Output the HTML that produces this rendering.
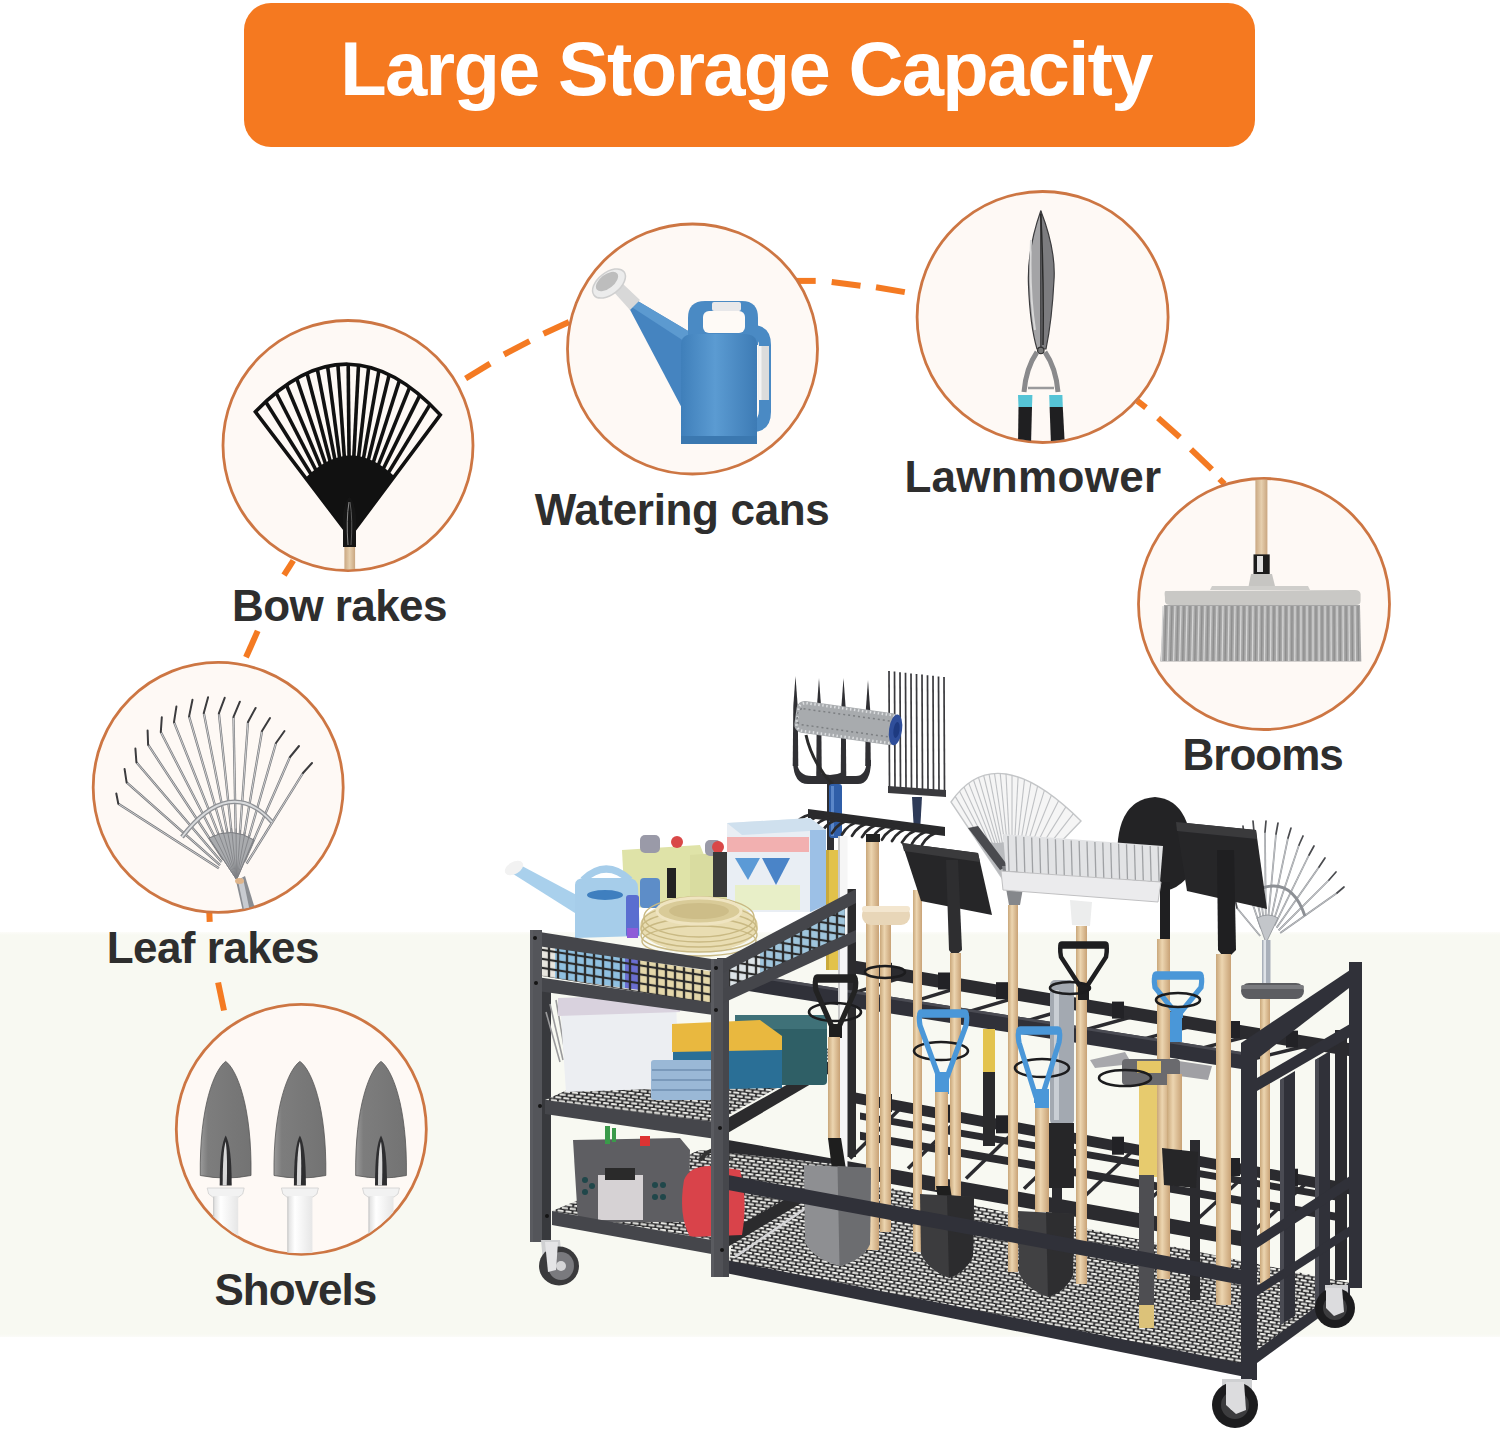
<!DOCTYPE html>
<html><head><meta charset="utf-8">
<style>
html,body{margin:0;padding:0;}
body{width:1500px;height:1433px;overflow:hidden;background:#fff;position:relative;font-family:"Liberation Sans",sans-serif;}
#band{position:absolute;left:0;top:932px;width:1500px;height:405px;background:linear-gradient(#fcfcf9 0px,#f8f9f2 3px,#f8f9f2 402px,#fbfbf8 405px);}
#banner{position:absolute;left:244px;top:3px;width:1011px;height:144px;border-radius:27px;background:#f57920;}
#title{position:absolute;left:-3.5px;top:0;width:1011px;text-align:center;color:#fff;font-weight:bold;font-size:76px;letter-spacing:-1.7px;line-height:132px;white-space:nowrap;}
.lbl{position:absolute;color:#2e2e2e;font-weight:bold;font-size:44px;line-height:44px;white-space:nowrap;}
svg{position:absolute;left:0;top:0;}
</style></head>
<body>
<div id="band"></div>
<div id="banner"><div id="title">Large Storage Capacity</div></div>

<svg id="main" width="1500" height="1433" viewBox="0 0 1500 1433">
<defs>
<pattern id="dmesh" width="8" height="6.6" patternUnits="userSpaceOnUse" patternTransform="rotate(9)">
<rect width="8" height="6.6" fill="#262628"/>
<rect x="0.7" y="0.5" width="6.4" height="2.2" rx="1.1" fill="#eeeeea"/>
<rect x="-3.3" y="3.8" width="6.4" height="2.2" rx="1.1" fill="#eeeeea"/>
<rect x="4.7" y="3.8" width="6.4" height="2.2" rx="1.1" fill="#eeeeea"/>
</pattern>
<pattern id="dmesh2" width="8" height="6.6" patternUnits="userSpaceOnUse" patternTransform="rotate(7)">
<rect width="8" height="6.6" fill="#262628"/>
<rect x="0.7" y="0.5" width="6.4" height="2.2" rx="1.1" fill="#e6e6e2"/>
<rect x="-3.3" y="3.8" width="6.4" height="2.2" rx="1.1" fill="#e6e6e2"/>
<rect x="4.7" y="3.8" width="6.4" height="2.2" rx="1.1" fill="#e6e6e2"/>
</pattern>
<pattern id="sqmesh" width="9" height="9" patternUnits="userSpaceOnUse" patternTransform="skewY(9)">
<rect width="9" height="9" fill="none" stroke="#2a2a2a" stroke-width="2.2"/>
</pattern>
<linearGradient id="wood" x1="0" x2="1" y1="0" y2="0">
<stop offset="0" stop-color="#c9a77a"/><stop offset="0.4" stop-color="#ecd5b0"/><stop offset="1" stop-color="#c8a276"/>
</linearGradient>
<linearGradient id="steel" x1="0" x2="1" y1="0" y2="0">
<stop offset="0" stop-color="#6e6e6e"/><stop offset="0.5" stop-color="#9a9a9a"/><stop offset="1" stop-color="#5a5a5a"/>
</linearGradient>
</defs>
<!-- dashes -->
<g stroke="#f47a22" stroke-width="6" fill="none">
<line x1="465.6" y1="378.5" x2="490.1" y2="363.6"/>
<line x1="504" y1="354.5" x2="529.6" y2="341.2"/>
<line x1="543.5" y1="333.7" x2="569" y2="322"/>
<line x1="796" y1="280.9" x2="815.7" y2="280.9"/>
<line x1="831.7" y1="282" x2="860.5" y2="285.7"/>
<line x1="876" y1="287.3" x2="904.8" y2="292.1"/>
<line x1="1137.3" y1="400.8" x2="1146" y2="407.7"/>
<line x1="1158.1" y1="418.1" x2="1179.8" y2="437.2"/>
<line x1="1191" y1="449.3" x2="1211.9" y2="469.3"/>
<line x1="1219.5" y1="479" x2="1224.5" y2="484"/>
<line x1="293.3" y1="560.5" x2="284" y2="575.2"/>
<line x1="257.7" y1="630.9" x2="246" y2="657.3"/>
<line x1="209.3" y1="911.7" x2="209.7" y2="921.8"/>
<line x1="218.1" y1="982.5" x2="224" y2="1010.5"/>
</g>
<!-- circles -->
<g stroke="#cd7643" stroke-width="2.8" fill="#fef9f5">
<circle cx="348" cy="445.5" r="125"/>
<circle cx="692.5" cy="349" r="125"/>
<circle cx="1042.6" cy="317" r="125.5"/>
<circle cx="1264" cy="604" r="125.5"/>
<circle cx="218.2" cy="787.4" r="125"/>
<circle cx="301.3" cy="1129.3" r="125"/>
</g>
<defs>
<clipPath id="cc0"><circle cx="348" cy="445.5" r="124"/></clipPath>
<clipPath id="cc1"><circle cx="692.5" cy="349" r="124"/></clipPath>
<clipPath id="cc2"><circle cx="1042.6" cy="317" r="124.5"/></clipPath>
<clipPath id="cc3"><circle cx="1264" cy="604" r="124.5"/></clipPath>
<clipPath id="cc4"><circle cx="218.2" cy="787.4" r="124"/></clipPath>
<clipPath id="cc5"><circle cx="301.3" cy="1129.3" r="124"/></clipPath>
<linearGradient id="blade" x1="0" x2="1" y1="0" y2="0"><stop offset="0" stop-color="#5a5a5c"/><stop offset="0.25" stop-color="#b9b9bb"/><stop offset="0.5" stop-color="#8d8d90"/><stop offset="0.55" stop-color="#3a3a3c"/><stop offset="0.6" stop-color="#9a9a9c"/><stop offset="1" stop-color="#4a4a4c"/></linearGradient>
<linearGradient id="canb" x1="0" x2="1" y1="0" y2="0"><stop offset="0" stop-color="#3f7fba"/><stop offset="0.45" stop-color="#5b9bd2"/><stop offset="1" stop-color="#3d7bb5"/></linearGradient>
<linearGradient id="bristle" x1="0" x2="0" y1="0" y2="1"><stop offset="0" stop-color="#8c8c8c"/><stop offset="1" stop-color="#b0b0b0"/></linearGradient>
<linearGradient id="trow" x1="0" x2="1" y1="0" y2="0"><stop offset="0" stop-color="#9a9a9a"/><stop offset="0.15" stop-color="#7d7d7d"/><stop offset="1" stop-color="#737373"/></linearGradient>
<linearGradient id="whand" x1="0" x2="1" y1="0" y2="0"><stop offset="0" stop-color="#dcdcdc"/><stop offset="0.3" stop-color="#ffffff"/><stop offset="1" stop-color="#e6e6e6"/></linearGradient>
<linearGradient id="wood2" x1="0" x2="1" y1="0" y2="0"><stop offset="0" stop-color="#caa882"/><stop offset="0.5" stop-color="#e6cfae"/><stop offset="1" stop-color="#c9a680"/></linearGradient>
</defs>
<g clip-path="url(#cc0)">
<path d="M349.8,536.0 L255.4,411.8 Q348.5,315.0 440.3,414.9 Z" fill="none" stroke="#111" stroke-width="3.6" stroke-linejoin="miter"/>
<line x1="349.8" y1="536.0" x2="265.7" y2="401.7" stroke="#111" stroke-width="3.6"/>
<line x1="349.8" y1="536.0" x2="276.1" y2="392.7" stroke="#111" stroke-width="3.6"/>
<line x1="349.8" y1="536.0" x2="286.4" y2="385.0" stroke="#111" stroke-width="3.6"/>
<line x1="349.8" y1="536.0" x2="296.7" y2="378.5" stroke="#111" stroke-width="3.6"/>
<line x1="349.8" y1="536.0" x2="307.0" y2="373.2" stroke="#111" stroke-width="3.6"/>
<line x1="349.8" y1="536.0" x2="317.3" y2="369.1" stroke="#111" stroke-width="3.6"/>
<line x1="349.8" y1="536.0" x2="327.6" y2="366.3" stroke="#111" stroke-width="3.6"/>
<line x1="349.8" y1="536.0" x2="337.9" y2="364.6" stroke="#111" stroke-width="3.6"/>
<line x1="349.8" y1="536.0" x2="348.2" y2="364.2" stroke="#111" stroke-width="3.6"/>
<line x1="349.8" y1="536.0" x2="358.5" y2="365.0" stroke="#111" stroke-width="3.6"/>
<line x1="349.8" y1="536.0" x2="368.7" y2="367.0" stroke="#111" stroke-width="3.6"/>
<line x1="349.8" y1="536.0" x2="379.0" y2="370.2" stroke="#111" stroke-width="3.6"/>
<line x1="349.8" y1="536.0" x2="389.2" y2="374.6" stroke="#111" stroke-width="3.6"/>
<line x1="349.8" y1="536.0" x2="399.5" y2="380.2" stroke="#111" stroke-width="3.6"/>
<line x1="349.8" y1="536.0" x2="409.7" y2="387.1" stroke="#111" stroke-width="3.6"/>
<line x1="349.8" y1="536.0" x2="419.9" y2="395.1" stroke="#111" stroke-width="3.6"/>
<line x1="349.8" y1="536.0" x2="430.1" y2="404.4" stroke="#111" stroke-width="3.6"/>
<path d="M349.8,536.0 L305.6,477.8 Q349.8,434 394.4,476.3 Z" fill="#111"/>
<rect x="344.4" y="545" width="10.7" height="30" fill="url(#wood2)"/>
<path d="M343,547 L343,515 Q345,500 349.5,497 Q354,500 356,515 L356,547 Z" fill="#151515"/>
<path d="M348,545 Q346,520 349,502" stroke="#8a8a8a" stroke-width="1" fill="none"/>
<path d="M351,545 Q353,520 350,502" stroke="#6a6a6a" stroke-width="0.8" fill="none"/>
</g>
<g clip-path="url(#cc1)">
<path d="M627,304 L636,300 L700,338 L700,395 L684,412 Z" fill="#4584c0"/>
<path d="M627,304 L636,300 L700,338 L690,345 Z" fill="#5c9ad0"/>
<path d="M612,290 L622,283 L640,300 L630,310 Z" fill="#d8d8d8"/>
<ellipse cx="609" cy="283.5" rx="19" ry="11" transform="rotate(-38 609 283.5)" fill="#ececec" stroke="#cfcfcf" stroke-width="1.5"/>
<ellipse cx="607" cy="281.5" rx="13" ry="7" transform="rotate(-38 607 281.5)" fill="#bdbdbd"/>
<path d="M688,345 L688,318 Q688,301 705,301 L742,301 Q758,301 758,318 L758,345 Z" fill="#4a8ac4"/>
<rect x="703" y="311" width="42" height="22" rx="6" fill="#fefaf6"/>
<rect x="712" y="302" width="29" height="9" rx="2" fill="#e8e8ea"/>
<path d="M752,325 Q771,325 771,345 L771,412 Q771,432 752,432 L752,420 Q759,420 759,410 L759,347 Q759,337 752,337 Z" fill="#4a8ac4"/>
<rect x="758.5" y="346" width="10.5" height="54" fill="#dcdcdc"/>
<rect x="758.5" y="346" width="3" height="54" fill="#f4f4f4"/>
<path d="M681,345 Q681,334 694,334 L744,334 Q757,334 757,345 L757,440 Q757,444 750,444 L688,444 Q681,444 681,440 Z" fill="url(#canb)"/>
<rect x="681" y="436" width="76" height="8" fill="#3b78b0"/>
</g>
<g clip-path="url(#cc2)">
<path d="M1040.8,210.7 Q1027,250 1028.5,285 Q1030,325 1037,349 L1041,349 Z" fill="#a4a4a6" stroke="#3c3c3e" stroke-width="1.2"/>
<path d="M1040.8,210.7 Q1056,250 1054,280 Q1052,320 1046,349 L1041,349 Z" fill="#7c7c7f" stroke="#3c3c3e" stroke-width="1.2"/>
<path d="M1040.8,214 Q1044,280 1043,345" stroke="#2a2a2a" stroke-width="1.5" fill="none"/>
<path d="M1031,240 Q1029,290 1035,330" stroke="#d8d8d8" stroke-width="2" fill="none"/>
<circle cx="1040.8" cy="350.4" r="3.2" fill="#777" stroke="#333" stroke-width="1.2"/>
<path d="M1037,352 Q1026,368 1024,392" stroke="#8a8a8c" stroke-width="5" fill="none"/>
<path d="M1045,352 Q1056,368 1058,392" stroke="#8a8a8c" stroke-width="5" fill="none"/>
<line x1="1028" y1="388" x2="1054" y2="388" stroke="#9a9a9c" stroke-width="2.5"/>
<path d="M1018,395 L1032.4,395 L1032,407 L1018.5,407 Z" fill="#56c4d6"/>
<path d="M1049.2,395 L1062.4,395 L1062.8,407 L1049.6,407 Z" fill="#56c4d6"/>
<path d="M1018.5,407 L1032,407 L1031,445 L1018,445 Z" fill="#1f1f21"/>
<path d="M1049.6,407 L1062.8,407 L1064.8,445 L1051,445 Z" fill="#1f1f21"/>
</g>
<g clip-path="url(#cc3)">
<rect x="1255.4" y="470" width="12" height="86" fill="url(#wood2)"/>
<rect x="1253.5" y="554.4" width="16.2" height="19.6" fill="#1c1c1c"/>
<rect x="1257" y="556" width="6" height="16" fill="#e0e0e0"/>
<path d="M1251,574 L1272,574 L1276,590 L1247.8,590 Z" fill="#c6c5c2"/>
<path d="M1166,591 Q1164,590 1164.9,597 L1165,602 Q1166,605 1170,605 L1356,605 Q1361,605 1360.6,600 L1360.6,594 Q1360,590 1355,590 Z" fill="#c9c8c5"/>
<path d="M1210,590 L1310,590 L1308,586 L1212,586 Z" fill="#cfcecb"/>
<path d="M1164,605 L1360,605 L1361.3,661.5 L1160.3,661.5 Z" fill="#a7a7a7"/>
<line x1="1163.0" y1="606" x2="1161.5" y2="661" stroke="#d6d6d6" stroke-width="1.3"/>
<line x1="1166.0" y1="606" x2="1164.5" y2="661" stroke="#8e8e8e" stroke-width="1.3"/>
<line x1="1169.0" y1="606" x2="1167.6" y2="661" stroke="#d6d6d6" stroke-width="1.3"/>
<line x1="1172.0" y1="606" x2="1170.6" y2="661" stroke="#8e8e8e" stroke-width="1.3"/>
<line x1="1175.0" y1="606" x2="1173.6" y2="661" stroke="#d6d6d6" stroke-width="1.3"/>
<line x1="1178.0" y1="606" x2="1176.7" y2="661" stroke="#8e8e8e" stroke-width="1.3"/>
<line x1="1181.0" y1="606" x2="1179.7" y2="661" stroke="#d6d6d6" stroke-width="1.3"/>
<line x1="1184.0" y1="606" x2="1182.7" y2="661" stroke="#8e8e8e" stroke-width="1.3"/>
<line x1="1187.0" y1="606" x2="1185.8" y2="661" stroke="#d6d6d6" stroke-width="1.3"/>
<line x1="1190.0" y1="606" x2="1188.8" y2="661" stroke="#8e8e8e" stroke-width="1.3"/>
<line x1="1193.0" y1="606" x2="1191.8" y2="661" stroke="#d6d6d6" stroke-width="1.3"/>
<line x1="1196.0" y1="606" x2="1194.8" y2="661" stroke="#8e8e8e" stroke-width="1.3"/>
<line x1="1199.0" y1="606" x2="1197.9" y2="661" stroke="#d6d6d6" stroke-width="1.3"/>
<line x1="1202.0" y1="606" x2="1200.9" y2="661" stroke="#8e8e8e" stroke-width="1.3"/>
<line x1="1205.0" y1="606" x2="1203.9" y2="661" stroke="#d6d6d6" stroke-width="1.3"/>
<line x1="1208.0" y1="606" x2="1207.0" y2="661" stroke="#8e8e8e" stroke-width="1.3"/>
<line x1="1211.0" y1="606" x2="1210.0" y2="661" stroke="#d6d6d6" stroke-width="1.3"/>
<line x1="1214.0" y1="606" x2="1213.0" y2="661" stroke="#8e8e8e" stroke-width="1.3"/>
<line x1="1217.0" y1="606" x2="1216.0" y2="661" stroke="#d6d6d6" stroke-width="1.3"/>
<line x1="1220.0" y1="606" x2="1219.1" y2="661" stroke="#8e8e8e" stroke-width="1.3"/>
<line x1="1223.0" y1="606" x2="1222.1" y2="661" stroke="#d6d6d6" stroke-width="1.3"/>
<line x1="1226.0" y1="606" x2="1225.1" y2="661" stroke="#8e8e8e" stroke-width="1.3"/>
<line x1="1229.0" y1="606" x2="1228.2" y2="661" stroke="#d6d6d6" stroke-width="1.3"/>
<line x1="1232.0" y1="606" x2="1231.2" y2="661" stroke="#8e8e8e" stroke-width="1.3"/>
<line x1="1235.0" y1="606" x2="1234.2" y2="661" stroke="#d6d6d6" stroke-width="1.3"/>
<line x1="1238.0" y1="606" x2="1237.3" y2="661" stroke="#8e8e8e" stroke-width="1.3"/>
<line x1="1241.0" y1="606" x2="1240.3" y2="661" stroke="#d6d6d6" stroke-width="1.3"/>
<line x1="1244.0" y1="606" x2="1243.3" y2="661" stroke="#8e8e8e" stroke-width="1.3"/>
<line x1="1247.0" y1="606" x2="1246.3" y2="661" stroke="#d6d6d6" stroke-width="1.3"/>
<line x1="1250.0" y1="606" x2="1249.4" y2="661" stroke="#8e8e8e" stroke-width="1.3"/>
<line x1="1253.0" y1="606" x2="1252.4" y2="661" stroke="#d6d6d6" stroke-width="1.3"/>
<line x1="1256.0" y1="606" x2="1255.4" y2="661" stroke="#8e8e8e" stroke-width="1.3"/>
<line x1="1259.0" y1="606" x2="1258.5" y2="661" stroke="#d6d6d6" stroke-width="1.3"/>
<line x1="1262.0" y1="606" x2="1261.5" y2="661" stroke="#8e8e8e" stroke-width="1.3"/>
<line x1="1265.0" y1="606" x2="1264.5" y2="661" stroke="#d6d6d6" stroke-width="1.3"/>
<line x1="1268.0" y1="606" x2="1267.6" y2="661" stroke="#8e8e8e" stroke-width="1.3"/>
<line x1="1271.0" y1="606" x2="1270.6" y2="661" stroke="#d6d6d6" stroke-width="1.3"/>
<line x1="1274.0" y1="606" x2="1273.6" y2="661" stroke="#8e8e8e" stroke-width="1.3"/>
<line x1="1277.0" y1="606" x2="1276.7" y2="661" stroke="#d6d6d6" stroke-width="1.3"/>
<line x1="1280.0" y1="606" x2="1279.7" y2="661" stroke="#8e8e8e" stroke-width="1.3"/>
<line x1="1283.0" y1="606" x2="1282.7" y2="661" stroke="#d6d6d6" stroke-width="1.3"/>
<line x1="1286.0" y1="606" x2="1285.7" y2="661" stroke="#8e8e8e" stroke-width="1.3"/>
<line x1="1289.0" y1="606" x2="1288.8" y2="661" stroke="#d6d6d6" stroke-width="1.3"/>
<line x1="1292.0" y1="606" x2="1291.8" y2="661" stroke="#8e8e8e" stroke-width="1.3"/>
<line x1="1295.0" y1="606" x2="1294.8" y2="661" stroke="#d6d6d6" stroke-width="1.3"/>
<line x1="1298.0" y1="606" x2="1297.9" y2="661" stroke="#8e8e8e" stroke-width="1.3"/>
<line x1="1301.0" y1="606" x2="1300.9" y2="661" stroke="#d6d6d6" stroke-width="1.3"/>
<line x1="1304.0" y1="606" x2="1303.9" y2="661" stroke="#8e8e8e" stroke-width="1.3"/>
<line x1="1307.0" y1="606" x2="1307.0" y2="661" stroke="#d6d6d6" stroke-width="1.3"/>
<line x1="1310.0" y1="606" x2="1310.0" y2="661" stroke="#8e8e8e" stroke-width="1.3"/>
<line x1="1313.0" y1="606" x2="1313.0" y2="661" stroke="#d6d6d6" stroke-width="1.3"/>
<line x1="1316.0" y1="606" x2="1316.0" y2="661" stroke="#8e8e8e" stroke-width="1.3"/>
<line x1="1319.0" y1="606" x2="1319.1" y2="661" stroke="#d6d6d6" stroke-width="1.3"/>
<line x1="1322.0" y1="606" x2="1322.1" y2="661" stroke="#8e8e8e" stroke-width="1.3"/>
<line x1="1325.0" y1="606" x2="1325.1" y2="661" stroke="#d6d6d6" stroke-width="1.3"/>
<line x1="1328.0" y1="606" x2="1328.2" y2="661" stroke="#8e8e8e" stroke-width="1.3"/>
<line x1="1331.0" y1="606" x2="1331.2" y2="661" stroke="#d6d6d6" stroke-width="1.3"/>
<line x1="1334.0" y1="606" x2="1334.2" y2="661" stroke="#8e8e8e" stroke-width="1.3"/>
<line x1="1337.0" y1="606" x2="1337.2" y2="661" stroke="#d6d6d6" stroke-width="1.3"/>
<line x1="1340.0" y1="606" x2="1340.3" y2="661" stroke="#8e8e8e" stroke-width="1.3"/>
<line x1="1343.0" y1="606" x2="1343.3" y2="661" stroke="#d6d6d6" stroke-width="1.3"/>
<line x1="1346.0" y1="606" x2="1346.3" y2="661" stroke="#8e8e8e" stroke-width="1.3"/>
<line x1="1349.0" y1="606" x2="1349.4" y2="661" stroke="#d6d6d6" stroke-width="1.3"/>
<line x1="1352.0" y1="606" x2="1352.4" y2="661" stroke="#8e8e8e" stroke-width="1.3"/>
<line x1="1355.0" y1="606" x2="1355.4" y2="661" stroke="#d6d6d6" stroke-width="1.3"/>
<line x1="1358.0" y1="606" x2="1358.5" y2="661" stroke="#8e8e8e" stroke-width="1.3"/>
</g>
<g clip-path="url(#cc4)">
<line x1="218.9" y1="868.3" x2="118.3" y2="803.8" stroke="#77797c" stroke-width="2.3"/>
<line x1="218.9" y1="868.3" x2="118.3" y2="803.8" stroke="#e4e5e7" stroke-width="0.8"/>
<line x1="118.3" y1="803.8" x2="116.3" y2="793.5" stroke="#3c3c3e" stroke-width="2" stroke-linecap="round"/>
<line x1="220.1" y1="865.1" x2="126.6" y2="782.3" stroke="#77797c" stroke-width="2.3"/>
<line x1="220.1" y1="865.1" x2="126.6" y2="782.3" stroke="#e4e5e7" stroke-width="0.8"/>
<line x1="126.6" y1="782.3" x2="124.6" y2="769.1" stroke="#3c3c3e" stroke-width="2" stroke-linecap="round"/>
<line x1="221.6" y1="862.1" x2="136.4" y2="762.3" stroke="#77797c" stroke-width="2.3"/>
<line x1="221.6" y1="862.1" x2="136.4" y2="762.3" stroke="#e4e5e7" stroke-width="0.8"/>
<line x1="136.4" y1="762.3" x2="135.4" y2="748.6" stroke="#3c3c3e" stroke-width="2" stroke-linecap="round"/>
<line x1="223.3" y1="859.5" x2="148.1" y2="744.7" stroke="#77797c" stroke-width="2.3"/>
<line x1="223.3" y1="859.5" x2="148.1" y2="744.7" stroke="#e4e5e7" stroke-width="0.8"/>
<line x1="148.1" y1="744.7" x2="147.6" y2="730.5" stroke="#3c3c3e" stroke-width="2" stroke-linecap="round"/>
<line x1="225.2" y1="857.5" x2="160.8" y2="732.0" stroke="#77797c" stroke-width="2.3"/>
<line x1="225.2" y1="857.5" x2="160.8" y2="732.0" stroke="#e4e5e7" stroke-width="0.8"/>
<line x1="160.8" y1="732.0" x2="161.8" y2="717.3" stroke="#3c3c3e" stroke-width="2" stroke-linecap="round"/>
<line x1="227.2" y1="856.1" x2="174.0" y2="722.2" stroke="#77797c" stroke-width="2.3"/>
<line x1="227.2" y1="856.1" x2="174.0" y2="722.2" stroke="#e4e5e7" stroke-width="0.8"/>
<line x1="174.0" y1="722.2" x2="176.4" y2="706.6" stroke="#3c3c3e" stroke-width="2" stroke-linecap="round"/>
<line x1="229.5" y1="855.2" x2="189.1" y2="716.4" stroke="#77797c" stroke-width="2.3"/>
<line x1="229.5" y1="855.2" x2="189.1" y2="716.4" stroke="#e4e5e7" stroke-width="0.8"/>
<line x1="189.1" y1="716.4" x2="192.5" y2="699.8" stroke="#3c3c3e" stroke-width="2" stroke-linecap="round"/>
<line x1="231.7" y1="854.7" x2="203.8" y2="713.0" stroke="#77797c" stroke-width="2.3"/>
<line x1="231.7" y1="854.7" x2="203.8" y2="713.0" stroke="#e4e5e7" stroke-width="0.8"/>
<line x1="203.8" y1="713.0" x2="208.1" y2="697.3" stroke="#3c3c3e" stroke-width="2" stroke-linecap="round"/>
<line x1="233.9" y1="854.8" x2="218.9" y2="713.4" stroke="#77797c" stroke-width="2.3"/>
<line x1="233.9" y1="854.8" x2="218.9" y2="713.4" stroke="#e4e5e7" stroke-width="0.8"/>
<line x1="218.9" y1="713.4" x2="224.7" y2="697.8" stroke="#3c3c3e" stroke-width="2" stroke-linecap="round"/>
<line x1="236.1" y1="855.3" x2="233.5" y2="716.9" stroke="#77797c" stroke-width="2.3"/>
<line x1="236.1" y1="855.3" x2="233.5" y2="716.9" stroke="#e4e5e7" stroke-width="0.8"/>
<line x1="233.5" y1="716.9" x2="239.9" y2="701.7" stroke="#3c3c3e" stroke-width="2" stroke-linecap="round"/>
<line x1="238.3" y1="856.0" x2="248.0" y2="722.0" stroke="#77797c" stroke-width="2.3"/>
<line x1="238.3" y1="856.0" x2="248.0" y2="722.0" stroke="#e4e5e7" stroke-width="0.8"/>
<line x1="248.0" y1="722.0" x2="255.6" y2="708.0" stroke="#3c3c3e" stroke-width="2" stroke-linecap="round"/>
<line x1="240.4" y1="857.4" x2="262.0" y2="731.0" stroke="#77797c" stroke-width="2.3"/>
<line x1="240.4" y1="857.4" x2="262.0" y2="731.0" stroke="#e4e5e7" stroke-width="0.8"/>
<line x1="262.0" y1="731.0" x2="270.0" y2="718.0" stroke="#3c3c3e" stroke-width="2" stroke-linecap="round"/>
<line x1="242.5" y1="859.2" x2="276.0" y2="743.0" stroke="#77797c" stroke-width="2.3"/>
<line x1="242.5" y1="859.2" x2="276.0" y2="743.0" stroke="#e4e5e7" stroke-width="0.8"/>
<line x1="276.0" y1="743.0" x2="284.5" y2="731.0" stroke="#3c3c3e" stroke-width="2" stroke-linecap="round"/>
<line x1="244.6" y1="861.3" x2="290.0" y2="757.0" stroke="#77797c" stroke-width="2.3"/>
<line x1="244.6" y1="861.3" x2="290.0" y2="757.0" stroke="#e4e5e7" stroke-width="0.8"/>
<line x1="290.0" y1="757.0" x2="299.0" y2="746.0" stroke="#3c3c3e" stroke-width="2" stroke-linecap="round"/>
<line x1="246.6" y1="863.7" x2="303.0" y2="773.0" stroke="#77797c" stroke-width="2.3"/>
<line x1="246.6" y1="863.7" x2="303.0" y2="773.0" stroke="#e4e5e7" stroke-width="0.8"/>
<line x1="303.0" y1="773.0" x2="312.0" y2="763.0" stroke="#3c3c3e" stroke-width="2" stroke-linecap="round"/>
<path d="M182,837 Q230,775 272,822" stroke="#8f9195" stroke-width="4.5" fill="none"/>
<path d="M182,837 Q230,775 272,822" stroke="#d9dbdd" stroke-width="1.8" fill="none"/>
<path d="M236.6,879.7 L209,838 Q232,826 254,840 Z" fill="#a9abae" stroke="#7a7c80" stroke-width="1"/>
<line x1="236.6" y1="879.7" x2="209.0" y2="838.0" stroke="#7d7f83" stroke-width="0.8"/>
<line x1="236.6" y1="879.7" x2="213.5" y2="834.9" stroke="#7d7f83" stroke-width="0.8"/>
<line x1="236.6" y1="879.7" x2="218.0" y2="832.1" stroke="#7d7f83" stroke-width="0.8"/>
<line x1="236.6" y1="879.7" x2="222.5" y2="829.9" stroke="#7d7f83" stroke-width="0.8"/>
<line x1="236.6" y1="879.7" x2="227.0" y2="828.5" stroke="#7d7f83" stroke-width="0.8"/>
<line x1="236.6" y1="879.7" x2="231.5" y2="828.0" stroke="#7d7f83" stroke-width="0.8"/>
<line x1="236.6" y1="879.7" x2="236.0" y2="828.5" stroke="#7d7f83" stroke-width="0.8"/>
<line x1="236.6" y1="879.7" x2="240.5" y2="829.9" stroke="#7d7f83" stroke-width="0.8"/>
<line x1="236.6" y1="879.7" x2="245.0" y2="832.1" stroke="#7d7f83" stroke-width="0.8"/>
<line x1="236.6" y1="879.7" x2="249.5" y2="834.9" stroke="#7d7f83" stroke-width="0.8"/>
<line x1="236.6" y1="879.7" x2="254.0" y2="838.0" stroke="#7d7f83" stroke-width="0.8"/>
<path d="M236,881 L245,876 L256,912 L244,916 Z" fill="#8a8d92"/>
<path d="M238,881 L243,878 L250,912 L245,914 Z" fill="#c8cbd0"/>
<ellipse cx="239.5" cy="881" rx="4.5" ry="3" fill="#e0b58a"/>
</g>
<g clip-path="url(#cc5)">
<path d="M200.3,1175.5 C199.3,1106.4 214.5,1069.4 225.7,1061.4 C236.8,1069.4 252.0,1106.4 251.0,1175.5 Q225.7,1180.5 200.3,1175.5 Z" fill="url(#trow)" stroke="#555" stroke-width="0.8"/>
<path d="M219.7,1185.5 Q219.7,1145.5 225.7,1135.5 Q231.7,1145.5 231.7,1185.5 Z" fill="#2e2e30"/>
<path d="M222.7,1185.5 Q222.7,1150.5 225.7,1141.5 Q227.7,1155.5 226.7,1185.5 Z" fill="#d8d8d8"/>
<path d="M207.2,1188 L244.2,1188 L242.7,1194 L238.7,1197 L212.7,1197 L208.7,1194 Z" fill="#f2f2f2" stroke="#cfcfcf" stroke-width="0.8"/>
<rect x="213.2" y="1196" width="25" height="70" fill="url(#whand)"/>
<line x1="213.7" y1="1197" x2="213.7" y2="1266" stroke="#c8c8c8" stroke-width="1"/>
<path d="M274.0,1175.5 C273.0,1106.4 288.5,1069.4 299.9,1061.4 C311.3,1069.4 326.8,1106.4 325.8,1175.5 Q299.9,1180.5 274.0,1175.5 Z" fill="url(#trow)" stroke="#555" stroke-width="0.8"/>
<path d="M293.9,1185.5 Q293.9,1145.5 299.9,1135.5 Q305.9,1145.5 305.9,1185.5 Z" fill="#2e2e30"/>
<path d="M296.9,1185.5 Q296.9,1150.5 299.9,1141.5 Q301.9,1155.5 300.9,1185.5 Z" fill="#d8d8d8"/>
<path d="M281.4,1188 L318.4,1188 L316.9,1194 L312.9,1197 L286.9,1197 L282.9,1194 Z" fill="#f2f2f2" stroke="#cfcfcf" stroke-width="0.8"/>
<rect x="287.4" y="1196" width="25" height="70" fill="url(#whand)"/>
<line x1="287.9" y1="1197" x2="287.9" y2="1266" stroke="#c8c8c8" stroke-width="1"/>
<path d="M355.7,1175.5 C354.7,1106.4 369.9,1069.4 381.0,1061.4 C392.2,1069.4 407.4,1106.4 406.4,1175.5 Q381.0,1180.5 355.7,1175.5 Z" fill="url(#trow)" stroke="#555" stroke-width="0.8"/>
<path d="M375.0,1185.5 Q375.0,1145.5 381.0,1135.5 Q387.0,1145.5 387.0,1185.5 Z" fill="#2e2e30"/>
<path d="M378.0,1185.5 Q378.0,1150.5 381.0,1141.5 Q383.0,1155.5 382.0,1185.5 Z" fill="#d8d8d8"/>
<path d="M362.5,1188 L399.5,1188 L398.0,1194 L394.0,1197 L368.0,1197 L364.0,1194 Z" fill="#f2f2f2" stroke="#cfcfcf" stroke-width="0.8"/>
<rect x="368.5" y="1196" width="25" height="70" fill="url(#whand)"/>
<line x1="369.0" y1="1197" x2="369.0" y2="1266" stroke="#c8c8c8" stroke-width="1"/>
</g>
<!-- CART -->
<g id="cart">
<!-- ===== RIGHT UNIT: back structure ===== -->
<polygon points="729,1262 1243,1365 1350,1283 745,1158" fill="url(#dmesh)"/>
<g fill="#2b2b2f">
<polygon points="851,960.0 1350,1043.3 1350,1056.3 851,973.0"/>
<polygon points="860,1112.5 1345,1195.0 1345,1202.0 860,1119.5"/>
<polygon points="860,1131.8 1345,1214.3 1345,1222.3 860,1139.8"/>
<polygon points="850,1091.5 1350,1183.5 1350,1194.5 850,1102.5"/>
<polygon points="728,1139.9 1243,1231.6 1243,1246.6 728,1154.9"/>
</g>
<g stroke="#2b2b2f" stroke-width="3.5">
<line x1="900" y1="978.2" x2="850" y2="994.1"/>
<line x1="958" y1="987.9" x2="908" y2="1003.2"/>
<line x1="1016" y1="997.6" x2="966" y2="1012.4"/>
<line x1="1074" y1="1007.2" x2="1024" y2="1021.6"/>
<line x1="1132" y1="1016.9" x2="1082" y2="1030.7"/>
<line x1="1190" y1="1026.6" x2="1140" y2="1039.9"/>
<line x1="1248" y1="1036.3" x2="1198" y2="1049.1"/>
<line x1="1306" y1="1046.0" x2="1256" y2="1058.2"/>
<line x1="900" y1="1108.7" x2="850" y2="1158.6"/>
<line x1="958" y1="1119.3" x2="908" y2="1168.6"/>
<line x1="1016" y1="1130.0" x2="966" y2="1178.6"/>
<line x1="1074" y1="1140.7" x2="1024" y2="1188.7"/>
<line x1="1132" y1="1151.4" x2="1082" y2="1198.7"/>
<line x1="1190" y1="1162.0" x2="1140" y2="1208.7"/>
<line x1="1248" y1="1172.7" x2="1198" y2="1218.8"/>
<line x1="1306" y1="1183.4" x2="1256" y2="1228.8"/>
</g>
<g fill="#222226">
<rect x="880" y="1094.0" width="12" height="18"/>
<rect x="938" y="1104.7" width="12" height="18"/>
<rect x="996" y="1115.3" width="12" height="18"/>
<rect x="1054" y="1126.0" width="12" height="18"/>
<rect x="1112" y="1136.7" width="12" height="18"/>
<rect x="1170" y="1147.4" width="12" height="18"/>
<rect x="1228" y="1158.0" width="12" height="18"/>
<rect x="1286" y="1168.7" width="12" height="18"/>
<rect x="880" y="962.8" width="12" height="17"/>
<rect x="938" y="972.5" width="12" height="17"/>
<rect x="996" y="982.2" width="12" height="17"/>
<rect x="1054" y="991.9" width="12" height="17"/>
<rect x="1112" y="1001.6" width="12" height="17"/>
<rect x="1170" y="1011.3" width="12" height="17"/>
<rect x="1228" y="1021.0" width="12" height="17"/>
<rect x="1286" y="1030.6" width="12" height="17"/>
</g>
<rect x="1052" y="1120" width="10" height="165" fill="#2b2b2f"/>
<rect x="1190" y="1140" width="10" height="160" fill="#2b2b2f"/>
<rect x="1335" y="1030" width="12" height="250" fill="#2b2b2f"/>

<!-- ===== LEFT UNIT: back / shelves ===== -->
<!-- back-left post -->
<rect x="541" y="985" width="10" height="255" fill="#38393d"/>
<!-- back-right post of left unit -->
<rect x="845" y="889" width="11" height="268" fill="#2b2b2d"/>
<!-- middle shelf mesh -->
<polygon points="545,1100 716,1122 845,1050 690,1035" fill="url(#dmesh2)"/>
<!-- bottom shelf mesh -->
<polygon points="552,1211 717,1241 845,1165 700,1150" fill="url(#dmesh2)"/>
<!-- middle shelf right side rail -->
<polygon points="726,1119 845,1052 845,1064 726,1134" fill="#2b2b2d"/>
<polygon points="726,1233 845,1165 845,1177 726,1248" fill="#2b2b2d"/>

<!-- gray rake behind left unit -->
<g stroke="#9a9a9c" stroke-width="1.6">
<line x1="556" y1="1000" x2="566" y2="1058"/><line x1="550" y1="1004" x2="563" y2="1060"/><line x1="561" y1="998" x2="569" y2="1055"/><line x1="546" y1="1012" x2="560" y2="1062"/>
</g>
<!-- middle shelf items -->
<!-- teal toolbox behind -->
<rect x="735" y="1015" width="92" height="70" rx="4" fill="#2f5f66"/>
<rect x="735" y="1015" width="92" height="14" fill="#3f7178"/>
<!-- white bin -->
<path d="M560,1002 L676,1000 L679,1088 L566,1092 Z" fill="#eceef2"/>
<path d="M558,998 L678,994 L680,1012 L558,1016 Z" fill="#d9d2de"/>
<!-- yellow/blue toolbox -->
<path d="M673,1028 L760,1024 L782,1040 L782,1088 L673,1090 Z" fill="#2a6f96"/>
<path d="M672,1024 L760,1020 L782,1036 L782,1050 L672,1052 Z" fill="#e9b83f"/>
<!-- blue cases stack -->
<rect x="651" y="1060" width="62" height="40" rx="3" fill="#9ab8d6"/>
<g stroke="#6f8fb0" stroke-width="1.5"><line x1="652" y1="1070" x2="712" y2="1070"/><line x1="652" y1="1080" x2="712" y2="1080"/><line x1="652" y1="1090" x2="712" y2="1090"/></g>

<!-- bottom shelf items -->
<path d="M573,1140 L680,1138 L690,1150 L688,1222 L578,1222 Z" fill="#5e5e62"/>
<rect x="598" y="1175" width="45" height="45" fill="#d6d2d4"/>
<rect x="605" y="1168" width="30" height="12" fill="#2a2a2a"/>
<g fill="#20474a"><circle cx="585" cy="1180" r="3"/><circle cx="585" cy="1192" r="3"/><circle cx="592" cy="1186" r="3"/><circle cx="655" cy="1185" r="3"/><circle cx="663" cy="1185" r="3"/><circle cx="655" cy="1197" r="3"/><circle cx="663" cy="1197" r="3"/></g>
<rect x="605" y="1126" width="5" height="18" fill="#3a9a4a"/><rect x="612" y="1128" width="4" height="14" fill="#3a9a4a"/><rect x="640" y="1136" width="10" height="10" fill="#d33"/>
<path d="M684,1180 Q690,1165 712,1166 L740,1170 Q748,1200 742,1235 L690,1237 Q678,1215 684,1180 Z" fill="#d9434a"/>
<path d="M700,1160 Q715,1140 730,1160" stroke="#333" stroke-width="4" fill="none"/>

<!-- top front rail of right unit (behind tools) -->
<polygon points="728,970.8 1243,1052.2 1243,1069.2 728,987.8" fill="#303139"/>
<polygon points="728,970.8 1243,1052.2 1243,1055 728,973.6" fill="#4a4b53"/>
<g stroke="#3a3a3e" stroke-width="1.7">
<line x1="889.0" y1="671.0" x2="889.5" y2="788.0"/>
<line x1="894.5" y1="671.6" x2="895.0" y2="788.3"/>
<line x1="900.0" y1="672.2" x2="900.5" y2="788.6"/>
<line x1="905.5" y1="672.8" x2="906.0" y2="788.9"/>
<line x1="911.0" y1="673.4" x2="911.5" y2="789.2"/>
<line x1="916.5" y1="674.0" x2="917.0" y2="789.5"/>
<line x1="922.0" y1="674.6" x2="922.5" y2="789.8"/>
<line x1="927.5" y1="675.2" x2="928.0" y2="790.1"/>
<line x1="933.0" y1="675.8" x2="933.5" y2="790.4"/>
<line x1="938.5" y1="676.4" x2="939.0" y2="790.7"/>
<line x1="944.0" y1="677.0" x2="944.5" y2="791.0"/>
</g>
<polygon points="888,786 946,790 946,797 888,793" fill="#3a3a3e"/>
<path d="M912,797 L922,797 L920,832 L914,832 Z" fill="#2e3b58"/>
<path d="M793,760 Q793,784 808,784 L858,784 Q871,784 871,760 L867,760 Q866,776 856,776 L812,776 Q797,776 797,760 Z" fill="#303034"/>
<path d="M795.5,676 L797.7,706 L798.3,766 L792.7,766 L793.3,706 Z" fill="#303034"/>
<path d="M819,678 L821.2,708 L821.8,781 L816.2,781 L816.8,708 Z" fill="#303034"/>
<path d="M843.5,678 L845.7,708 L846.3,781 L840.7,781 L841.3,708 Z" fill="#303034"/>
<path d="M868,680 L870.2,710 L870.8,766 L865.2,766 L865.8,710 Z" fill="#303034"/>
<path d="M817,772 Q830,778 843,772 L843,780 L817,780 Z" fill="#303034"/>
<rect x="827" y="780" width="7" height="70" fill="#2e2e32"/>
<path d="M806,735 Q812,762 832,784" stroke="#2a2a2a" stroke-width="3" fill="none"/>
<g transform="rotate(8 847 723)">
<rect x="795" y="707" width="104" height="32" rx="8" fill="#a8abae"/>
<rect x="797" y="709" width="100" height="28" rx="7" fill="none" stroke="#dcdee0" stroke-width="2.5" stroke-dasharray="1.5 2.5"/>
<rect x="797" y="715" width="98" height="16" rx="5" fill="none" stroke="#7c7f82" stroke-width="1.5" stroke-dasharray="2 3"/>
<ellipse cx="896" cy="723" rx="6.5" ry="15.5" fill="#2f4e9a"/>
<ellipse cx="897" cy="723" rx="3" ry="8" fill="#1e3a80"/>
</g>
<rect x="829" y="784" width="13" height="54" rx="3" fill="#2f5ea8"/>
<rect x="831" y="786" width="3" height="50" fill="#5a86c8"/>
<rect x="838" y="836" width="9.5" height="365" fill="#f6f6f6"/>
<rect x="838" y="836" width="2" height="365" fill="#c9c9c9"/>
<rect x="826" y="850" width="12" height="120" fill="#e2c24a"/>
<rect x="826" y="850" width="3" height="120" fill="#c9a93a"/>
<polygon points="808,809 945,827 945,836 808,818" fill="#2a2a2c"/>
<g stroke="#2a2a2c" stroke-width="2.8" stroke-linecap="round" fill="none">
<path d="M812,814.0 Q798,817.0 792,828.0"/>
<path d="M822,815.3 Q808,818.3 802,829.3"/>
<path d="M832,816.6 Q818,819.6 812,830.6"/>
<path d="M842,817.9 Q828,820.9 822,831.9"/>
<path d="M852,819.2 Q838,822.2 832,833.2"/>
<path d="M862,820.5 Q848,823.5 842,834.5"/>
<path d="M872,821.8 Q858,824.8 852,835.8"/>
<path d="M882,823.1 Q868,826.1 862,837.1"/>
<path d="M892,824.4 Q878,827.4 872,838.4"/>
<path d="M902,825.7 Q888,828.7 882,839.7"/>
<path d="M912,827.0 Q898,830.0 892,841.0"/>
<path d="M922,828.3 Q908,831.3 902,842.3"/>
<path d="M932,829.6 Q918,832.6 912,843.6"/>
<path d="M942,830.9 Q928,833.9 922,844.9"/>
</g>
<rect x="866" y="834" width="14" height="8" fill="#222"/>
<rect x="866" y="842" width="13" height="408" fill="url(#wood)"/>
<rect x="880" y="925" width="11" height="307" fill="url(#wood)"/>
<rect x="862" y="906" width="48" height="19" rx="9" fill="#e8d6b8"/>
<rect x="862" y="906" width="48" height="6" rx="3" fill="#f3e6cf"/>
<rect x="913" y="890" width="9" height="362" fill="url(#wood)"/>
<polygon points="902,843 978,853 992,915 921,901" fill="#262628"/>
<polygon points="902,843 978,853 980,862 904,851" fill="#3a3a3c"/>
<path d="M946,860 L958,860 L962,950 L954,957 L949,950 Z" fill="#2e2e30"/>
<rect x="950" y="953" width="11" height="309" fill="url(#wood)"/>
<path d="M1012,893 L951,802 Q996.0,736.5 1081,821 Z" fill="#f5f5f5" stroke="#c4c6c8" stroke-width="1.4"/>
<g stroke="#bfc1c4" stroke-width="1.1" fill="none">
<path d="M1001.8,875.6 L955.2,796.4"/>
<path d="M1002.6,874.7 L959.5,791.3"/>
<path d="M1003.4,873.9 L964.0,786.9"/>
<path d="M1004.2,873.2 L968.7,783.1"/>
<path d="M1005.1,872.7 L973.5,780.0"/>
<path d="M1006.0,872.2 L978.5,777.4"/>
<path d="M1006.9,871.9 L983.7,775.5"/>
<path d="M1007.9,871.6 L989.0,774.2"/>
<path d="M1008.9,871.5 L994.5,773.5"/>
<path d="M1009.9,871.5 L1000.2,773.4"/>
<path d="M1010.9,871.6 L1006.0,774.0"/>
<path d="M1012.0,871.8 L1012.0,775.2"/>
<path d="M1013.1,872.1 L1018.1,777.0"/>
<path d="M1014.2,872.5 L1024.5,779.4"/>
<path d="M1015.4,873.1 L1031.0,782.4"/>
<path d="M1016.6,873.8 L1037.6,786.1"/>
<path d="M1017.8,874.5 L1044.4,790.3"/>
<path d="M1019.1,875.4 L1051.4,795.2"/>
<path d="M1020.4,876.4 L1058.6,800.7"/>
<path d="M1021.7,877.5 L1065.9,806.9"/>
<path d="M1023.0,878.7 L1073.4,813.6"/>
</g>
<path d="M1012,893 L975,838 Q990,845 1005,842 Z" fill="#b9bbbe"/>
<path d="M968,828 L1000,870 L1008,866 L978,826 Z" fill="#4a4b4f"/>
<path d="M1002,866 L1027,866 L1020,905 L1009,905 Z" fill="#85878b"/>
<rect x="1008" y="905" width="10" height="367" fill="url(#wood)"/>
<path d="M1118,870 Q1112,800 1155,797 Q1195,800 1192,870 Q1180,892 1155,892 Q1130,892 1118,870 Z" fill="#232325"/>
<rect x="1160" y="882" width="10" height="58" fill="#1f1f21"/>
<rect x="1157" y="939" width="13" height="340" fill="url(#wood)"/>
<polygon points="1003,834 1163,846 1160,882 1006,871" fill="#e2e3e5"/>
<g stroke="#9fa1a4" stroke-width="1.3">
<line x1="1008.0" y1="836.0" x2="1009.0" y2="872.0"/>
<line x1="1015.9" y1="836.5" x2="1016.9" y2="872.5"/>
<line x1="1023.8" y1="837.1" x2="1024.8" y2="873.1"/>
<line x1="1031.7" y1="837.6" x2="1032.7" y2="873.6"/>
<line x1="1039.6" y1="838.2" x2="1040.6" y2="874.2"/>
<line x1="1047.5" y1="838.8" x2="1048.5" y2="874.8"/>
<line x1="1055.4" y1="839.3" x2="1056.4" y2="875.3"/>
<line x1="1063.3" y1="839.9" x2="1064.3" y2="875.9"/>
<line x1="1071.2" y1="840.4" x2="1072.2" y2="876.4"/>
<line x1="1079.1" y1="841.0" x2="1080.1" y2="877.0"/>
<line x1="1087.0" y1="841.5" x2="1088.0" y2="877.5"/>
<line x1="1094.9" y1="842.0" x2="1095.9" y2="878.0"/>
<line x1="1102.8" y1="842.6" x2="1103.8" y2="878.6"/>
<line x1="1110.7" y1="843.1" x2="1111.7" y2="879.1"/>
<line x1="1118.6" y1="843.7" x2="1119.6" y2="879.7"/>
<line x1="1126.5" y1="844.2" x2="1127.5" y2="880.2"/>
<line x1="1134.4" y1="844.8" x2="1135.4" y2="880.8"/>
<line x1="1142.3" y1="845.4" x2="1143.3" y2="881.4"/>
<line x1="1150.2" y1="845.9" x2="1151.2" y2="881.9"/>
<line x1="1158.1" y1="846.5" x2="1159.1" y2="882.5"/>
</g>
<polygon points="1001,871 1161,882 1158,902 1003,890" fill="#ebebed" stroke="#c0c0c2" stroke-width="1"/>
<path d="M1070,900 L1092,902 L1090,926 L1072,925 Z" fill="#eceded"/>
<rect x="1076" y="926" width="11" height="358" fill="url(#wood)"/>
<line x1="1260.2" y1="936.0" x2="1237" y2="908" stroke="#8a8d92" stroke-width="1.7"/>
<line x1="1260.2" y1="936.0" x2="1237" y2="908" stroke="#e2e4e6" stroke-width="0.6"/>
<line x1="1237" y1="908" x2="1235" y2="899" stroke="#4a4b4f" stroke-width="1.7" stroke-linecap="round"/>
<line x1="1261.0" y1="928.4" x2="1241" y2="870" stroke="#8a8d92" stroke-width="1.7"/>
<line x1="1261.0" y1="928.4" x2="1241" y2="870" stroke="#e2e4e6" stroke-width="0.6"/>
<line x1="1241" y1="870" x2="1240" y2="860" stroke="#4a4b4f" stroke-width="1.7" stroke-linecap="round"/>
<line x1="1261.6" y1="922.0" x2="1244" y2="838" stroke="#8a8d92" stroke-width="1.7"/>
<line x1="1261.6" y1="922.0" x2="1244" y2="838" stroke="#e2e4e6" stroke-width="0.6"/>
<line x1="1244" y1="838" x2="1243" y2="826" stroke="#4a4b4f" stroke-width="1.7" stroke-linecap="round"/>
<line x1="1263.6" y1="920.8" x2="1254" y2="832" stroke="#8a8d92" stroke-width="1.7"/>
<line x1="1263.6" y1="920.8" x2="1254" y2="832" stroke="#e2e4e6" stroke-width="0.6"/>
<line x1="1254" y1="832" x2="1253" y2="821" stroke="#4a4b4f" stroke-width="1.7" stroke-linecap="round"/>
<line x1="1265.8" y1="920.8" x2="1265" y2="832" stroke="#8a8d92" stroke-width="1.7"/>
<line x1="1265.8" y1="920.8" x2="1265" y2="832" stroke="#e2e4e6" stroke-width="0.6"/>
<line x1="1265" y1="832" x2="1266" y2="821" stroke="#4a4b4f" stroke-width="1.7" stroke-linecap="round"/>
<line x1="1268.0" y1="921.2" x2="1276" y2="834" stroke="#8a8d92" stroke-width="1.7"/>
<line x1="1268.0" y1="921.2" x2="1276" y2="834" stroke="#e2e4e6" stroke-width="0.6"/>
<line x1="1276" y1="834" x2="1278" y2="823" stroke="#4a4b4f" stroke-width="1.7" stroke-linecap="round"/>
<line x1="1270.4" y1="922.0" x2="1288" y2="838" stroke="#8a8d92" stroke-width="1.7"/>
<line x1="1270.4" y1="922.0" x2="1288" y2="838" stroke="#e2e4e6" stroke-width="0.6"/>
<line x1="1288" y1="838" x2="1291" y2="828" stroke="#4a4b4f" stroke-width="1.7" stroke-linecap="round"/>
<line x1="1272.6" y1="923.4" x2="1299" y2="845" stroke="#8a8d92" stroke-width="1.7"/>
<line x1="1272.6" y1="923.4" x2="1299" y2="845" stroke="#e2e4e6" stroke-width="0.6"/>
<line x1="1299" y1="845" x2="1303" y2="836" stroke="#4a4b4f" stroke-width="1.7" stroke-linecap="round"/>
<line x1="1274.6" y1="925.4" x2="1309" y2="855" stroke="#8a8d92" stroke-width="1.7"/>
<line x1="1274.6" y1="925.4" x2="1309" y2="855" stroke="#e2e4e6" stroke-width="0.6"/>
<line x1="1309" y1="855" x2="1314" y2="846" stroke="#4a4b4f" stroke-width="1.7" stroke-linecap="round"/>
<line x1="1276.6" y1="927.8" x2="1319" y2="867" stroke="#8a8d92" stroke-width="1.7"/>
<line x1="1276.6" y1="927.8" x2="1319" y2="867" stroke="#e2e4e6" stroke-width="0.6"/>
<line x1="1319" y1="867" x2="1325" y2="858" stroke="#4a4b4f" stroke-width="1.7" stroke-linecap="round"/>
<line x1="1278.6" y1="930.4" x2="1329" y2="880" stroke="#8a8d92" stroke-width="1.7"/>
<line x1="1278.6" y1="930.4" x2="1329" y2="880" stroke="#e2e4e6" stroke-width="0.6"/>
<line x1="1329" y1="880" x2="1336" y2="872" stroke="#4a4b4f" stroke-width="1.7" stroke-linecap="round"/>
<line x1="1280.2" y1="933.0" x2="1337" y2="893" stroke="#8a8d92" stroke-width="1.7"/>
<line x1="1280.2" y1="933.0" x2="1337" y2="893" stroke="#e2e4e6" stroke-width="0.6"/>
<line x1="1337" y1="893" x2="1344" y2="887" stroke="#4a4b4f" stroke-width="1.7" stroke-linecap="round"/>
<path d="M1262,888 Q1292,878 1305,916" stroke="#8d9095" stroke-width="3" fill="none"/>
<path d="M1266,943 L1257,918 Q1268,912 1278,918 Z" fill="#c3c6ca" stroke="#8d9095" stroke-width="0.8"/>
<rect x="1262" y="940" width="8.5" height="46" fill="#a9b0ba"/>
<rect x="1263.5" y="940" width="2.5" height="46" fill="#dfe3e8"/>
<rect x="1260" y="988" width="10" height="302" fill="url(#wood)"/>
<rect x="1241" y="983" width="63" height="16" rx="8" fill="#5c5d61"/>
<rect x="1241" y="985" width="63" height="4" rx="2" fill="#7a7b7f"/>
<polygon points="1176,822 1256,830 1267,909 1187,891" fill="#262628"/>
<polygon points="1176,822 1256,830 1257,839 1177,831" fill="#3a3a3c"/>
<path d="M1217,850 L1234,850 L1236,950 L1226,960 L1218,950 Z" fill="#1f1f21"/>
<rect x="1216" y="954" width="15" height="351" fill="url(#wood)"/>
<rect x="1050" y="980" width="24" height="145" rx="5" fill="#a3a9b1"/>
<rect x="1054" y="990" width="5" height="130" fill="#c9ced4"/>
<rect x="1048" y="1123" width="26" height="65" fill="#262628"/>
<path d="M1062.0,945.0 Q1059,945.0 1061,957.0 L1080.5,987 M1105.0,945.0 Q1108,945.0 1106,957.0 L1086.5,987" fill="none" stroke="#1e1e20" stroke-width="4.5" stroke-linecap="round"/>
<line x1="1062.0" y1="945.0" x2="1105.0" y2="945.0" stroke="#1e1e20" stroke-width="7.5" stroke-linecap="round"/>
<rect x="1078.5" y="983" width="10" height="10" fill="#1e1e20"/>
<rect x="1078" y="985" width="11" height="15" fill="#1e1e20"/>
<rect x="983" y="1029" width="12" height="45" fill="#e3c34e"/>
<rect x="983" y="1072" width="12" height="74" fill="#2a2a2c"/>
<path d="M1156.5,975.5 Q1153,975.5 1155,987.5 L1175.0,1012 M1199.5,975.5 Q1203,975.5 1201,987.5 L1181.0,1012" fill="none" stroke="#4a97d8" stroke-width="5.2" stroke-linecap="round"/>
<line x1="1156.5" y1="975.5" x2="1199.5" y2="975.5" stroke="#4a97d8" stroke-width="8.5" stroke-linecap="round"/>
<rect x="1173.0" y="1008" width="10" height="10" fill="#4a97d8"/>
<rect x="1170" y="1012" width="12" height="30" fill="#4a97d8"/>
<path d="M1090,1060 L1125,1052 L1132,1064 L1095,1068 Z" fill="#a8a8ac"/>
<path d="M1172,1060 L1212,1066 L1208,1080 L1172,1075 Z" fill="#a0a0a4"/>
<rect x="1122" y="1059" width="58" height="26" rx="4" fill="#6a6a6e"/>
<rect x="1137" y="1061" width="24" height="12" fill="#e6c766"/>
<rect x="1139" y="1085" width="18" height="92" fill="#e7cb6e"/>
<rect x="1139" y="1175" width="15" height="135" fill="#4e4e52"/>
<rect x="1139" y="1305" width="15" height="23" fill="#dcc279"/>
<rect x="1167" y="1074" width="15" height="76" fill="url(#wood)"/>
<path d="M1162,1148 L1198,1152 L1196,1188 L1164,1185 Z" fill="#262628"/>
<line x1="735" y1="1257" x2="806" y2="1208" stroke="#d5d5d7" stroke-width="2.6"/>
<g fill="none" stroke="#1c1c1e" stroke-width="2.6">
<ellipse cx="835" cy="1012" rx="26" ry="9"/>
<ellipse cx="941" cy="1051" rx="27" ry="9"/>
<ellipse cx="1042" cy="1068" rx="27" ry="9"/>
<ellipse cx="1125" cy="1078" rx="26" ry="8"/>
<ellipse cx="1178" cy="1000" rx="22" ry="7"/>
<ellipse cx="885" cy="972" rx="20" ry="6"/>
<ellipse cx="1070" cy="988" rx="20" ry="6"/>
</g>
<path d="M817.5,978.5 Q814,978.5 816,990.5 L832.5,1028 M853.5,978.5 Q857,978.5 855,990.5 L838.5,1028" fill="none" stroke="#222" stroke-width="5.2" stroke-linecap="round"/>
<line x1="817.5" y1="978.5" x2="853.5" y2="978.5" stroke="#222" stroke-width="8.5" stroke-linecap="round"/>
<rect x="830.5" y="1024" width="10" height="10" fill="#222"/>
<rect x="829" y="1024" width="13" height="14" fill="#1e1e1e"/>
<rect x="828" y="1037" width="12" height="103" fill="url(#wood)"/>
<path d="M828,1138 L841,1138 L848,1182 L834,1185 Z" fill="#1e1e1e"/>
<path d="M804,1165 L871,1168 L870,1244 Q863,1260 839.5,1266 Q812,1258 805,1242 Z" fill="#8e8f92"/>
<path d="M837.5,1166 L871,1168 L870,1244 Q863,1260 839.5,1266 Z" fill="#6c6d70"/>
<path d="M921.5,1013.5 Q918,1013.5 920,1025.5 L940.0,1080 M964.5,1013.5 Q968,1013.5 966,1025.5 L946.0,1080" fill="none" stroke="#4a97d8" stroke-width="5.2" stroke-linecap="round"/>
<line x1="921.5" y1="1013.5" x2="964.5" y2="1013.5" stroke="#4a97d8" stroke-width="8.5" stroke-linecap="round"/>
<rect x="938.0" y="1076" width="10" height="10" fill="#4a97d8"/>
<rect x="935" y="1072" width="14" height="22" fill="#4a97d8"/>
<rect x="935" y="1092" width="13" height="98" fill="url(#wood)"/>
<path d="M936,1186 L950,1186 L953,1205 L939,1207 Z" fill="#1e1e1e"/>
<path d="M920,1194 L974,1197 L973,1256 Q966,1272 949.0,1278 Q928,1270 921,1254 Z" fill="#3c3c3e"/>
<path d="M947.0,1195 L974,1197 L973,1256 Q966,1272 949.0,1278 Z" fill="#2c2c2e"/>
<path d="M1020.5,1030.5 Q1017,1030.5 1019,1042.5 L1036.0,1097 M1057.5,1030.5 Q1061,1030.5 1059,1042.5 L1042.0,1097" fill="none" stroke="#4a97d8" stroke-width="5.2" stroke-linecap="round"/>
<line x1="1020.5" y1="1030.5" x2="1057.5" y2="1030.5" stroke="#4a97d8" stroke-width="8.5" stroke-linecap="round"/>
<rect x="1034.0" y="1093" width="10" height="10" fill="#4a97d8"/>
<rect x="1035" y="1089" width="14" height="22" fill="#4a97d8"/>
<rect x="1035" y="1108" width="14" height="104" fill="url(#wood)"/>
<path d="M1018,1211 L1074,1214 L1073,1275 Q1066,1291 1048.0,1297 Q1026,1289 1019,1273 Z" fill="#414143"/>
<path d="M1046.0,1212 L1074,1214 L1073,1275 Q1066,1291 1048.0,1297 Z" fill="#2e2e30"/>
<!-- ===== RIGHT UNIT: front frame ===== -->
<g fill="#303139">
<polygon points="728,1175 1243,1270 1243,1285 728,1190"/>
<polygon points="728,1260.5 1243,1363.5 1243,1376.5 728,1273.5"/>
<rect x="717" y="958" width="12" height="319" fill="#46474c"/>
<rect x="1241" y="1043" width="16" height="337"/>
<polygon points="1241,1043 1362,962 1362,978 1257,1059"/>
<polygon points="1257,1078 1350,1024 1350,1037 1257,1091"/>
<rect x="1349" y="962" width="13" height="326"/>
<polygon points="1280,1080 1295,1071 1295,1316 1280,1325"/>
<polygon points="1280,1080 1284,1078 1284,1323 1280,1325" fill="#4a4b53"/>
<polygon points="1315,1060 1330,1051 1330,1296 1315,1305"/>
<polygon points="1315,1060 1319,1058 1319,1303 1315,1305" fill="#4a4b53"/>
<polygon points="1257,1236 1350,1176 1350,1188 1257,1248"/>
<polygon points="1257,1286 1350,1226 1350,1236 1257,1296"/>
<polygon points="1257,1350 1350,1282 1350,1295 1257,1363"/>
</g>

<!-- ===== LEFT UNIT: basket contents ===== -->
<!-- bottles behind -->
<path d="M622,850 L700,845 L710,870 L712,905 L625,908 Z" fill="#dfe3a8"/>
<path d="M690,855 L728,852 L728,905 L690,905 Z" fill="#d9dca0"/>
<rect x="640" y="835" width="20" height="18" rx="5" fill="#9a9aa8"/>
<rect x="705" y="840" width="16" height="16" rx="5" fill="#9a9aa8"/>
<circle cx="677" cy="842" r="6" fill="#d94848"/>
<circle cx="718" cy="847" r="6" fill="#d94848"/>
<rect x="713" y="852" width="14" height="45" fill="#3a3a3a"/>
<rect x="667" y="868" width="9" height="30" fill="#222"/>
<rect x="640" y="878" width="20" height="30" rx="4" fill="#5d8dc8"/>
<!-- box -->
<polygon points="727,823 810,818 826,830 826,912 727,912" fill="#e9eef4"/>
<polygon points="727,823 810,818 826,830 742,835" fill="#cfe0ee"/>
<rect x="727" y="837" width="82" height="15" fill="#f2b0b0"/>
<polygon points="735,858 760,858 748,880" fill="#5b9ad6"/>
<polygon points="762,858 790,858 776,885" fill="#4a84c8"/>
<rect x="735" y="885" width="65" height="25" fill="#e8efc8"/>
<polygon points="810,830 826,830 826,905 810,912" fill="#9cc0e6"/>
<!-- watering can -->
<path d="M507,870 L522,866 L586,900 L586,920 Z" fill="#a9d0ec"/>
<ellipse cx="514" cy="868" rx="10" ry="6" transform="rotate(-30 514 868)" fill="#f2f2f2"/>
<path d="M575,885 Q575,878 585,878 L628,878 Q638,878 638,888 L640,936 L575,938 Z" fill="#a6cdea"/>
<path d="M583,880 Q606,858 630,880" stroke="#a6cdea" stroke-width="7" fill="none"/>
<ellipse cx="605" cy="895" rx="18" ry="5" fill="#3f7fbf"/>
<rect x="626" y="895" width="13" height="42" rx="3" fill="#5a6ed0"/>
<rect x="627" y="928" width="11" height="10" fill="#8e5cd8"/>
<!-- hose -->
<ellipse cx="699" cy="926" rx="59" ry="26" fill="#e9ddb2"/>
<g fill="none" stroke="#c9b983" stroke-width="1.4">
<ellipse cx="699" cy="941" rx="57" ry="15"/>
<ellipse cx="699" cy="935" rx="58" ry="17"/>
<ellipse cx="699" cy="929" rx="58" ry="18"/>
<ellipse cx="699" cy="923" rx="57" ry="19"/>
<ellipse cx="699" cy="917" rx="55" ry="20"/>
</g>
<ellipse cx="699" cy="912" rx="42" ry="13" fill="#d9cb98"/>
<ellipse cx="699" cy="911" rx="30" ry="8" fill="#cdbd88"/>
<ellipse cx="699" cy="911" rx="42" ry="13" fill="none" stroke="#efe4c0" stroke-width="3"/>
<!-- ===== LEFT UNIT: front frame ===== -->
<!-- basket mesh (front & side) -->
<polygon points="542,945 711,971.6 711,1004 542,976" fill="#e8e6df"/>
<polygon points="555,947 625,958 625,988 555,978" fill="#8fc0e0"/>
<polygon points="625,958 640,960 640,990 625,988" fill="#6a6ed0"/>
<polygon points="640,960 711,971.6 711,1004 640,992" fill="#e4d7aa"/>
<polygon points="542,945 711,971.6 711,1004 542,976" fill="url(#sqmesh)"/>
<polygon points="729,967 845,905 845,940 729,989" fill="#dde4e8"/>
<polygon points="760,950 845,905 845,940 760,973" fill="#9fc5dc"/>
<polygon points="729,967 845,905 845,940 729,989" fill="url(#sqmesh)"/>
<g fill="#45464b">
<!-- top rim front -->
<polygon points="530,930.5 721,960.6 721,972 530,945"/>
<!-- top rim right side -->
<polygon points="721,960.6 856,889 856,903 721,974"/>
<!-- basket lower bar front -->
<polygon points="530,976 721,1004 721,1016 530,990"/>
<!-- basket lower bar side -->
<polygon points="721,990 856,930 856,942 721,1004"/>
<!-- middle shelf front bar -->
<polygon points="545,1100 716,1122 716,1139 545,1114"/>
<!-- bottom shelf front bar -->
<polygon points="552,1211 717,1241 717,1255 552,1225"/>
<!-- FL post -->
<rect x="530" y="930" width="12" height="312" fill="#54555a"/>
<!-- FR post -->
<rect x="711" y="959" width="12" height="318" fill="#505156"/>
</g>
<g fill="#5a5b60"><rect x="530" y="930" width="3" height="312"/><rect x="711" y="959" width="3" height="318"/></g>
<!-- bolts -->
<g fill="#151515"><circle cx="535" cy="938" r="2"/><circle cx="536" cy="983" r="2"/><circle cx="716" cy="968" r="2"/><circle cx="716" cy="1010" r="2"/><circle cx="540" cy="1106" r="2"/><circle cx="547" cy="1216" r="2"/><circle cx="720" cy="1128" r="2"/><circle cx="722" cy="1250" r="2"/></g>

<!-- ===== WHEELS ===== -->
<g>
<path d="M541,1240 L560,1240 L562,1262 L552,1275 L543,1262 Z" fill="#cfd0d2"/>
<ellipse cx="559" cy="1266" rx="20" ry="19.5" fill="#3a3a3c"/>
<ellipse cx="561" cy="1266" rx="13" ry="14" fill="#7a7a7e"/>
<ellipse cx="561" cy="1266" rx="5" ry="5" fill="#d5d5d7"/>
<path d="M545,1242 L558,1242 L556,1270 L548,1272 Z" fill="#e4e4e6"/>
<path d="M1222,1379 L1252,1379 L1252,1395 L1222,1395 Z" fill="#cfd0d2"/>
<circle cx="1235" cy="1405" r="23" fill="#1c1c1e"/>
<circle cx="1235" cy="1405" r="14" fill="#3c3c3e"/>
<circle cx="1235" cy="1405" r="6" fill="#d0d0d2"/>
<path d="M1226,1382 L1244,1382 L1246,1410 L1236,1414 L1226,1405 Z" fill="#dcdcde"/>
<path d="M1325,1285 L1348,1285 L1348,1298 L1325,1298 Z" fill="#cfd0d2"/>
<circle cx="1335" cy="1308" r="20" fill="#1c1c1e"/>
<circle cx="1335" cy="1308" r="12" fill="#3c3c3e"/>
<circle cx="1335" cy="1308" r="5" fill="#d0d0d2"/>
<path d="M1326,1288 L1342,1288 L1344,1312 L1334,1316 L1326,1308 Z" fill="#dcdcde"/>
</g>
</g>

</svg>

<div class="lbl" style="left:232.1px;top:583.9px;letter-spacing:-0.6px;">Bow rakes</div>
<div class="lbl" style="left:534.7px;top:488.2px;letter-spacing:-0.33px;">Watering cans</div>
<div class="lbl" style="left:904.4px;top:455px;letter-spacing:0.3px;">Lawnmower</div>
<div class="lbl" style="left:1182.5px;top:732.6px;letter-spacing:-1px;">Brooms</div>
<div class="lbl" style="left:106.7px;top:926.3px;letter-spacing:-0.55px;">Leaf rakes</div>
<div class="lbl" style="left:214.5px;top:1267.5px;letter-spacing:-1px;">Shovels</div>

</body></html>
